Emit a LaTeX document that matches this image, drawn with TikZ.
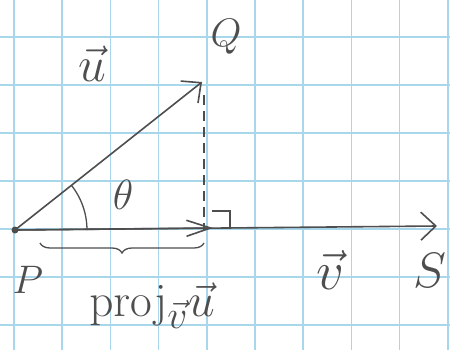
\documentclass[tikz,border=0pt]{standalone}
\usetikzlibrary{arrows.meta,decorations.pathreplacing}
\definecolor{gridblue}{RGB}{168,214,234}
\definecolor{ink}{RGB}{78,78,78}
\begin{document}
\begin{tikzpicture}[x=1pt,y=-1pt,
  gridline/.style={draw=gridblue,line width=1.6pt},
  ray/.style={draw=ink,line width=1.6pt},
  vec/.style={ray,-{Straight Barb[length=15pt,width=28pt,line width=1.6pt]}},
  lbl/.style={text=ink,inner sep=0pt,font=\Huge}]
\useasboundingbox[fill=white] (0,0) rectangle (450,350);
% grid
\foreach \i in {0,...,9} \draw[gridline] ({14+48.2*\i},0) -- ({14+48.2*\i},350);
\foreach \j in {0,...,6} \draw[gridline] (0,{37+48*\j}) -- (450,{37+48*\j});
% points
\coordinate (P) at (15,230);
\coordinate (Q) at (202,82);
\coordinate (F) at (204,230);
\coordinate (Fa) at (213,228);
\coordinate (S) at (437,226);
\coordinate (D) at (204,95);
\coordinate (Ra) at (212,211);
\coordinate (Rb) at (230,211);
\coordinate (Rc) at (230,227);
\coordinate (B1) at (40,243);
\coordinate (B2) at (204,243);
\coordinate (A1) at (71.4,185.3);
% vectors
\draw[vec] (P) -- (S);
\draw[vec] (P) -- (Q);
\draw[ray,-{Straight Barb[length=24pt,width=16pt,line width=1.6pt]}] (P) -- (Fa);
\draw[ray,dashed,dash pattern=on 10pt off 6pt] (D) -- (F);
\draw[ray,line width=1.3pt] (Ra) -- (Rb) -- (Rc);
\draw[ray,line width=1.3pt] (A1) arc[start angle=-38.4,end angle=0,radius=72];
\fill[ink] (P) circle[radius=3.5];
\draw[ray,line width=1.3pt,decorate,decoration={brace,amplitude=10pt,mirror}] (B1) -- (B2);
% labels
\node[lbl,scale=1.6] (lQ) at (226,37) {$Q$};
\node[lbl,scale=2.0] (lu) at (92,64) {$\vec{u}$};
\node[lbl,scale=1.7] (lt) at (123,195) {$\theta$};
\node[lbl,scale=1.6] (lP) at (28,280) {$P$};
\node[lbl,scale=2.2] (lv) at (330,270) {$\vec{v}$};
\node[lbl,scale=2.0] (lS) at (430,270) {$S$};
\node[lbl,scale=1.9] (lproj) at (152,306) {$\mathrm{proj}_{\vec{v}}\vec{u}$};
\end{tikzpicture}
\end{document}
